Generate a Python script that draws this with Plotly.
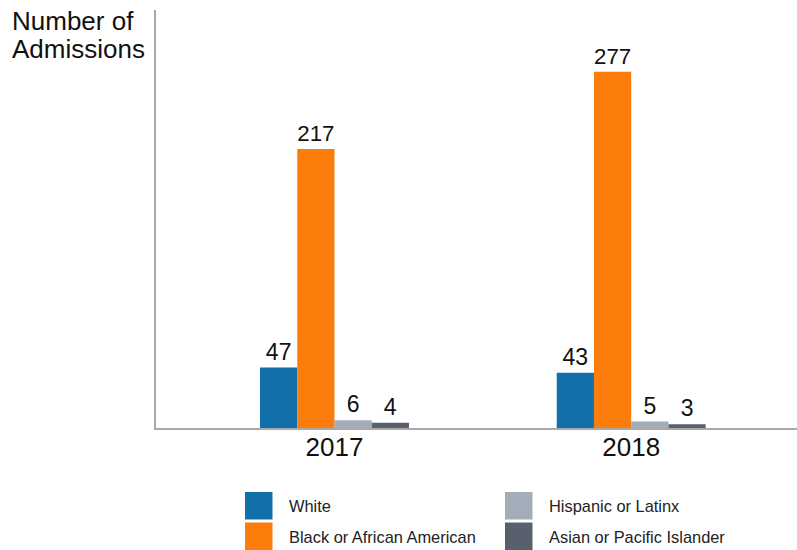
import plotly.graph_objects as go

years = ["2017", "2018"]
series_names = ["White", "Black or African American", "Hispanic or Latinx", "Asian or Pacific Islander"]
white = [47, 43]
black = [217, 277]
hispanic = [6, 5]
asian = [4, 3]
colors = ["#1170AA", "#FC7D0B", "#A3ACB9", "#57606C"]

W, H = 797, 550
L, R, T, B = 156, 0, 10, 122
pw, ph = W - L - R, H - T - B

def px_x(x):
    return (x - L) / pw

def px_y(y):
    return (H - B - y) / ph

fig = go.Figure()
for name, vals, c in zip(series_names, [white, black, hispanic, asian], colors):
    fig.add_trace(go.Bar(
        x=years, y=vals, name=name, marker_color=c, marker_line_width=0,
        text=[str(v) for v in vals], textposition="outside", cliponaxis=False,
        textfont=dict(size=23, color="#111111", family="Liberation Sans, Arial, sans-serif"),
        showlegend=False,
    ))

fig.update_layout(
    width=W, height=H,
    margin=dict(l=L, r=R, t=T, b=B, pad=0),
    paper_bgcolor="white", plot_bgcolor="white",
    barmode="group", bargap=0.498, bargroupgap=0,
    font=dict(family="Liberation Sans, Arial, sans-serif", color="#111111"),
    xaxis=dict(type="category", range=[-0.6016, 1.5588], showline=True, linecolor="#a8a8a8",
               linewidth=2, ticks="", showgrid=False, ticklabelstandoff=-5,
               tickfont=dict(size=26, color="#111111")),
    yaxis=dict(range=[0, 325], showline=True, linecolor="#a8a8a8", linewidth=1.5,
               showticklabels=False, ticks="", showgrid=False, zeroline=False),
)

for i, line in enumerate(["Number of", "Admissions"]):
    fig.add_annotation(
        text=line, xref="paper", yref="paper",
        x=px_x(10), y=px_y(4 + 28 * i), xanchor="left", yanchor="top", showarrow=False, align="left",
        font=dict(size=26, color="#111111"),
    )

# legend drawn as boxes + labels
legend_pos = [(245, 492), (245, 522.5), (505, 492), (505, 522.5)]
for (lx, ly), name, c in zip(legend_pos, series_names, colors):
    fig.add_shape(type="rect", xref="paper", yref="paper",
                  x0=px_x(lx), x1=px_x(lx + 27.5), y0=px_y(ly), y1=px_y(ly + 27.5),
                  fillcolor=c, line_width=0)
    fig.add_annotation(text=name, xref="paper", yref="paper",
                       x=px_x(lx + 42), y=px_y(ly + 14), xanchor="left", yanchor="middle",
                       showarrow=False, font=dict(size=16.4, color="#222222"))

fig.write_html("out.html", post_script="document.body.style.margin='0px';",
               config={"displayModeBar": False})
